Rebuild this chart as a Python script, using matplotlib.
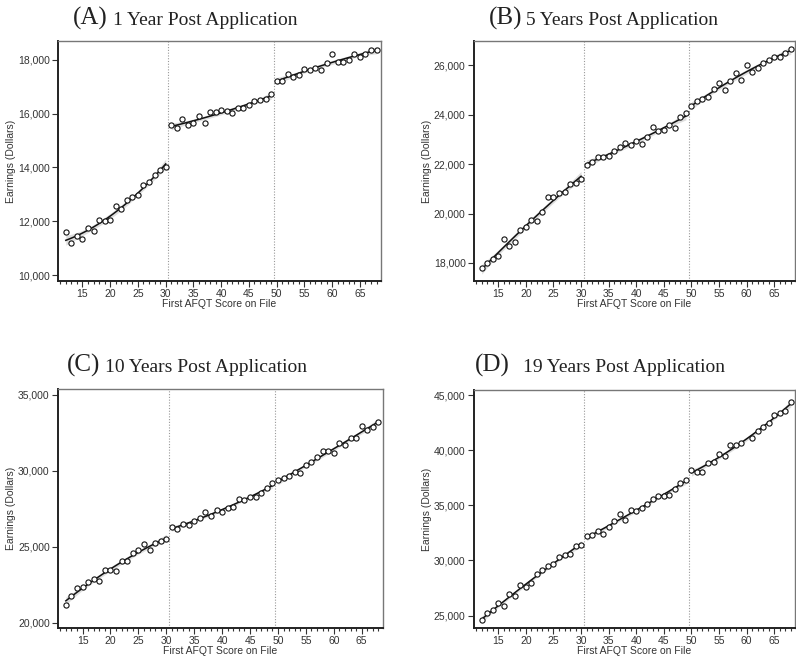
import numpy as np
import matplotlib
matplotlib.use("Agg")
import matplotlib.pyplot as plt
from matplotlib.ticker import MultipleLocator, StrMethodFormatter

# AFQT scores
afqt = np.arange(12, 69)

# earnings, 1 year post application
earn_1y = [11600, 11200, 11440, 11330, 11740, 11640, 12060, 12000, 12040, 12570,
           12450, 12780, 12900, 12960, 13340, 13460, 13730, 13890, 14020,
           15570, 15450, 15790, 15570, 15670, 15900, 15650, 16050, 16050, 16150,
           16100, 16040, 16220, 16220, 16330, 16470, 16520, 16540, 16720,
           17230, 17230, 17480, 17360, 17420, 17670, 17630, 17690, 17630, 17900,
           18200, 17930, 17930, 18010, 18220, 18100, 18220, 18370, 18370]

# earnings, 5 years post application
earn_5y = [17810, 18010, 18160, 18300, 18970, 18690, 18860, 19330, 19460, 19730,
           19700, 20070, 20660, 20660, 20840, 20860, 21190, 21240, 21410,
           21950, 22080, 22270, 22300, 22340, 22530, 22700, 22840, 22770, 22950,
           22800, 23080, 23500, 23330, 23370, 23600, 23450, 23910, 24080,
           24340, 24550, 24620, 24710, 25020, 25290, 25010, 25370, 25690, 25410,
           25990, 25730, 25870, 26090, 26200, 26340, 26340, 26500, 26650]

# earnings, 10 years post application
earn_10y = [21200, 21750, 22270, 22360, 22690, 22860, 22730, 23490, 23490, 23380,
            24040, 24040, 24560, 24760, 25200, 24800, 25240, 25390, 25500,
            26270, 26140, 26510, 26460, 26680, 26920, 27290, 27030, 27440, 27290,
            27550, 27640, 28120, 28100, 28290, 28290, 28530, 28840, 29170,
            29390, 29500, 29670, 29910, 29850, 30390, 30590, 30870, 31270, 31310,
            31140, 31790, 31700, 32120, 32160, 32970, 32690, 32900, 33210]

# earnings, 19 years post application (no point shown at 60)
earn_19y = [24550, 25240, 25540, 26140, 25900, 26930, 26750, 27770, 27620, 27920,
            28740, 29130, 29460, 29670, 30360, 30480, 30570, 31330, 31390,
            32230, 32290, 32650, 32410, 33070, 33550, 34190, 33710, 34610, 34490,
            34790, 35090, 35570, 35840, 35840, 35990, 36510, 37050, 37320,
            38250, 38070, 38070, 38860, 38920, 39700, 39460, 40450, 40510, 40660,
            np.nan, 41110, 41720, 42110, 42470, 43220, 43370, 43610, 44370]

cutoffs = [30.5, 49.5]

panels = [
    ("(A)", "1 Year Post Application", earn_1y, (9780, 18700), 2000,
     [0.0729, 0.5723, 0.4057, 0.3653], (0.092, 0.142, 0.962)),
    ("(B)", "5 Years Post Application", earn_5y, (17270, 26980), 2000,
     [0.5955, 0.5723, 0.4035, 0.3653], (0.614, 0.661, 0.962)),
    ("(C)", "10 Years Post Application", earn_10y, (19650, 35370), 5000,
     [0.0729, 0.0440, 0.4081, 0.3639], (0.084, 0.132, 0.434)),
    ("(D)", "19 Years Post Application", earn_19y, (23860, 45480), 5000,
     [0.5955, 0.0440, 0.4035, 0.3624], (0.597, 0.657, 0.434)),
]

fig = plt.figure(figsize=(7.96, 6.57), dpi=100)
sans = ["Liberation Sans", "DejaVu Sans"]
serif = ["Liberation Serif", "DejaVu Serif"]

for letter, title, earn, ylim, ystep, rect, tpos in panels:
    ax = fig.add_axes(rect)
    y = np.array(earn, dtype=float)

    # quadratic fit on each side of the cutoffs
    edges = [afqt.min() - 0.5] + cutoffs + [afqt.max() + 0.5]
    for lo, hi in zip(edges[:-1], edges[1:]):
        m = (afqt > lo) & (afqt < hi) & ~np.isnan(y)
        xs, ys = afqt[m], y[m]
        coef = np.polyfit(xs, ys, 2)
        xx = np.linspace(xs.min(), xs.max(), 100)
        fit = np.polyval(coef, xx)
        X = np.vander(xs, 3)
        resid = ys - np.polyval(coef, xs)
        s2 = resid @ resid / (len(xs) - 3)
        cov = s2 * np.linalg.inv(X.T @ X)
        XX = np.vander(xx, 3)
        se = np.sqrt(np.einsum("ij,jk,ik->i", XX, cov, XX))
        ax.fill_between(xx, fit - 1.96 * se, fit + 1.96 * se,
                        color="#c8c8c8", alpha=0.6, lw=0)
        ax.plot(xx, fit, color="#111111", lw=1.1)

    ax.scatter(afqt, y, s=14, facecolors="white", edgecolors="#111111",
               linewidths=0.8, zorder=3)

    for c in cutoffs:
        ax.axvline(c, color="#999999", lw=0.8, ls=(0, (1, 1.5)), zorder=0)

    ax.set_xlim(10.6, 68.8)
    ax.set_ylim(*ylim)
    ax.xaxis.set_major_locator(MultipleLocator(5))
    ax.xaxis.set_minor_locator(MultipleLocator(1))
    ax.set_xticks(np.arange(15, 70, 5))
    ax.yaxis.set_major_locator(MultipleLocator(ystep))
    ax.yaxis.set_major_formatter(StrMethodFormatter("{x:,.0f}"))
    ax.tick_params(axis="both", labelsize=7.5, colors="#333333", length=4,
                   width=0.8, pad=2, labelcolor="#333333")
    ax.tick_params(axis="x", which="minor", length=2, width=0.8, colors="#333333")
    for lab in ax.get_xticklabels() + ax.get_yticklabels():
        lab.set_family(sans)

    for side in ["left", "bottom"]:
        ax.spines[side].set_color("#222222")
        ax.spines[side].set_linewidth(1.4)
    for side in ["top", "right"]:
        ax.spines[side].set_color("#777777")
        ax.spines[side].set_linewidth(1.0)

    ax.set_ylabel("Earnings (Dollars)", fontsize=7.5, family=sans, color="#333333",
                  labelpad=1.5)
    ax.set_xlabel("First AFQT Score on File", fontsize=7.5, family=sans,
                  color="#333333", labelpad=0)

    fig.text(tpos[0], tpos[2], letter, fontsize=18, family=serif, color="#222222",
             va="baseline")
    fig.text(tpos[1], tpos[2], title, fontsize=14, family=serif, color="#222222",
             va="baseline")

fig.savefig("out.png", dpi=100)
